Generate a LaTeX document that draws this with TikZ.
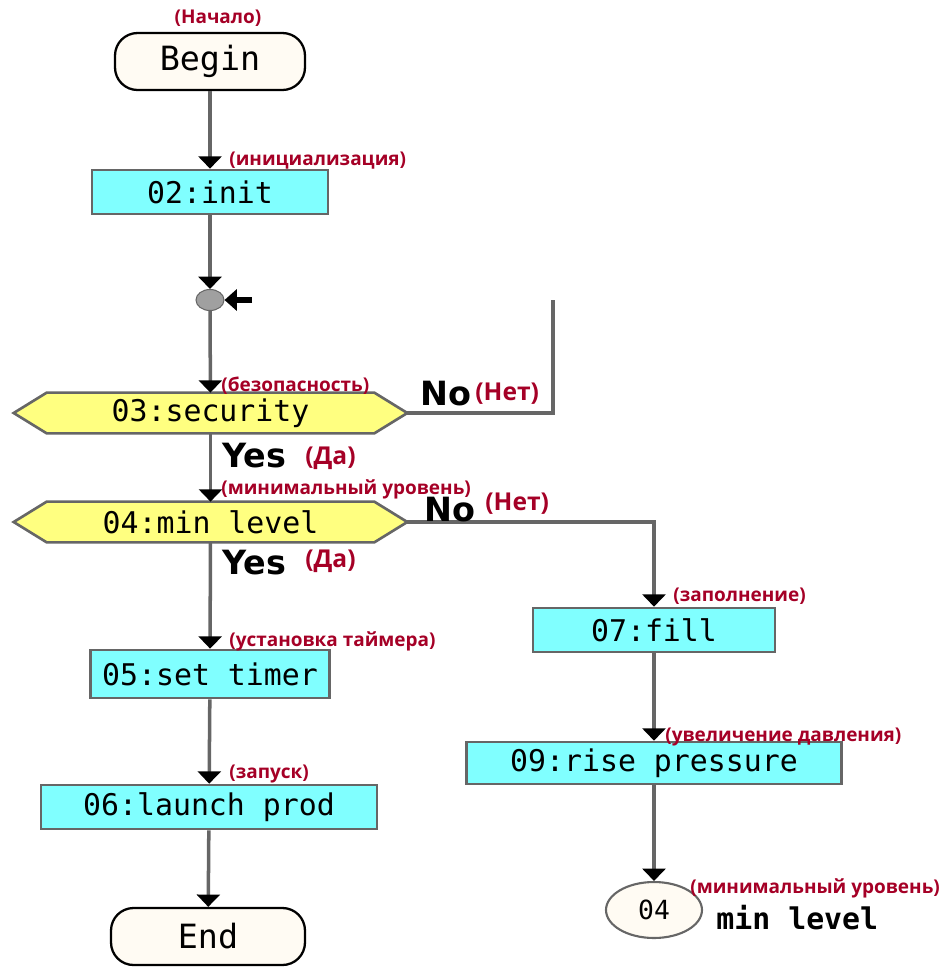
\documentclass[tikz,border=0pt]{standalone}
\usepackage{fontspec}
\usepackage{xcolor}
\usepackage{tikz}
\usetikzlibrary{shapes.geometric, arrows.meta, positioning, backgrounds, calc}
\newfontfamily\boxfont{DejaVu Sans Mono}
\newfontfamily\answerfont{DejaVu Sans}
\newfontfamily\notefont{Open Sans}
\definecolor{boxcyan}{RGB}{128,255,255}
\definecolor{decyellow}{RGB}{255,255,128}
\definecolor{termcream}{RGB}{255,251,243}
\definecolor{linegray}{RGB}{102,102,102}
\definecolor{junctgray}{RGB}{160,160,160}
\definecolor{notered}{RGB}{165,0,38}
\tikzset{
  stepbox/.style={rectangle, draw=linegray, line width=1.5pt, fill=boxcyan,
    minimum height=0.88cm, inner sep=0pt, font=\boxfont\fontsize{17}{20}\selectfont},
  termbox/.style={rectangle, rounded corners=0.45cm, draw=black, line width=1.3pt,
    fill=termcream, minimum width=3.8cm, minimum height=1.14cm, inner sep=0pt,
    font=\boxfont\fontsize{19}{22}\selectfont},
  decbox/.style={rectangle, minimum width=7.86cm, minimum height=0.8cm, inner sep=0pt,
    font=\boxfont\fontsize{17}{20}\selectfont},
  decshape/.style={draw=linegray, line width=1.5pt, fill=decyellow},
  connbox/.style={ellipse, draw=linegray, line width=1.2pt, fill=termcream,
    minimum width=1.92cm, minimum height=1.12cm, inner sep=0pt,
    font=\boxfont\fontsize{15}{18}\selectfont},
  junction/.style={ellipse, fill=junctgray, draw=linegray, line width=0.6pt,
    minimum width=0.56cm, minimum height=0.42cm, inner sep=0pt},
  flowline/.style={line width=2pt, color=linegray},
  flow/.style={flowline, -{Triangle[length=7pt, width=13pt, black]}},
  stubarrow/.style={line width=3pt, black, -{Triangle[length=7pt, width=12pt]}},
  note/.style={anchor=west, inner sep=0pt, text=notered,
    font=\notefont\bfseries\fontsize{10.8}{13}\selectfont},
  bignote/.style={note, font=\notefont\bfseries\fontsize{14}{16}\selectfont},
  answer/.style={anchor=west, inner sep=0pt,
    font=\answerfont\bfseries\fontsize{19}{21}\selectfont},
}

\begin{document}
\begin{tikzpicture}[x=0.02cm, y=-0.02cm]
  \useasboundingbox (0,0) rectangle (949,968);

  %% main column
  \node[termbox] (begin) at (210,61.5) {Begin};
  \node[stepbox, minimum width=4.72cm] (init) at (210,192) {02:init};
  \node[junction] (junc) at (210,300) {};
  \coordinate (jin) at (252,300);
  \node[decbox] (sec) at (210.5,413) {03:security};
  \node[decbox] (minl) at (210.5,522) {04:min level};
  \node[stepbox, minimum width=4.78cm, minimum height=0.96cm] (timer) at (210,674) {05:set timer};
  \node[stepbox, minimum width=6.72cm] (launch) at (209,807) {06:launch prod};
  \node[termbox, minimum width=3.88cm] (end) at (208,936.5) {End};

  %% right column
  \node[stepbox, minimum width=4.84cm] (fill) at (654,630) {07:fill};
  \node[stepbox, minimum width=7.5cm, minimum height=0.84cm] (rise) at (654,763) {09:rise pressure};
  \node[connbox] (conn) at (654,910) {04};
  \coordinate (loopend) at (553,300);

  %% hexagons behind the decision texts
  \begin{scope}[on background layer]
    \foreach \d in {sec, minl} {
      \filldraw[decshape] (\d.west) -- ([xshift=0.66cm]\d.north west)
        -- ([xshift=-0.66cm]\d.north east) -- (\d.east)
        -- ([xshift=-0.66cm]\d.south east) -- ([xshift=0.66cm]\d.south west) -- cycle;
    }
  \end{scope}

  %% connectors
  \draw[flow] (begin) -- (init);
  \draw[flow] (init) -- (junc);
  \draw[stubarrow] (jin) -- (junc);
  \draw[flow] (junc) -- (sec);
  \draw[flowline] (sec.east) -| (loopend);
  \draw[flow] (sec) -- (minl);
  \draw[flow] (minl.east) -| (fill.north);
  \draw[flow] (minl) -- (timer);
  \draw[flow] (timer) -- (launch);
  \draw[flow] (launch) -- (end);
  \draw[flow] (fill) -- (rise);
  \draw[flow] (rise) -- (conn);

  %% answers
  \node[answer] (no1) at (420,394) {No};
  \node[answer] (yes1) at (222,456) {Yes};
  \node[answer] (no2) at (424,510) {No};
  \node[answer] (yes2) at (222,563) {Yes};
  \node[answer, font=\boxfont\bfseries\fontsize{17}{20}\selectfont] (connlbl) at (716,918) {min level};

  %% notes
  \node[note, anchor=center] (n1) at (218,18) {(Начало)};
  \node[note] (n2) at (229,161) {(инициализация)};
  \node[note] (n3) at (221,386) {(безопасность)};
  \node[bignote] (n4) at (475,394) {(Нет)};
  \node[bignote] (n5) at (305,458) {(Да)};
  \node[note] (n6) at (221,489) {(минимальный уровень)};
  \node[bignote] (n7) at (485,504) {(Нет)};
  \node[bignote] (n8) at (305,561) {(Да)};
  \node[note] (n9) at (673,596) {(заполнение)};
  \node[note] (n10) at (229,641) {(установка таймера)};
  \node[note] (n11) at (665,737) {(увеличение давления)};
  \node[note] (n12) at (229,774) {(запуск)};
  \node[note] (n13) at (690,888) {(минимальный уровень)};

\end{tikzpicture}
\end{document}
